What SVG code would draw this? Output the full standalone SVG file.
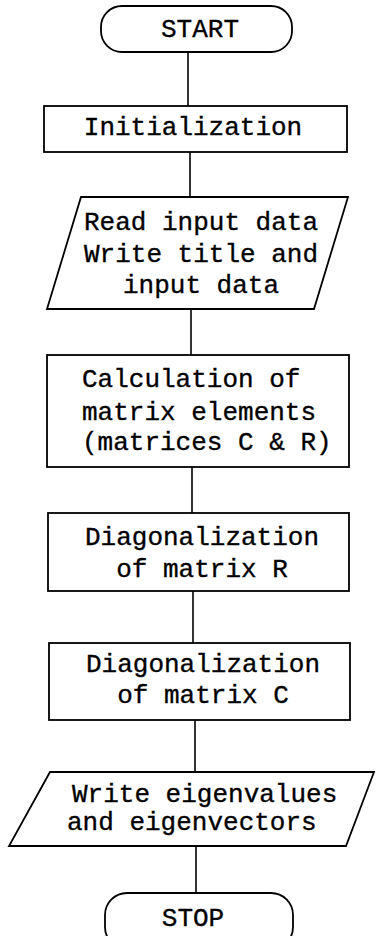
<svg xmlns="http://www.w3.org/2000/svg" width="376" height="936" viewBox="0 0 376 936">
<style>
.s{fill:#fff;stroke:#000;stroke-width:1.8}
.c{fill:none;stroke:#000;stroke-width:1.6}
.t{font-family:"Liberation Mono","Courier New",monospace;font-size:26px;fill:#000;stroke:#000;stroke-width:0.35}
.m{text-anchor:middle}
</style>
<rect width="376" height="936" fill="#fff"/>
<g id="connectors">
<line class="c" x1="188" y1="52" x2="188" y2="106"/>
<line class="c" x1="190" y1="152" x2="190" y2="197"/>
<line class="c" x1="191" y1="309" x2="191" y2="355"/>
<line class="c" x1="192" y1="467" x2="192" y2="513"/>
<line class="c" x1="193" y1="591" x2="193" y2="643"/>
<line class="c" x1="195" y1="720" x2="195" y2="772"/>
<line class="c" x1="196" y1="846" x2="196" y2="893"/>
</g>
<g id="start">
<rect class="s" x="101" y="6" width="191" height="46" rx="21" ry="21"/>
<text class="t m" x="200" y="37" font-size="24">START</text>
</g>
<g id="init">
<rect class="s" x="44" y="106" width="303" height="46"/>
<text class="t m" x="193" y="135">Initialization</text>
</g>
<g id="read">
<polygon class="s" points="81,197 348,197 314,309 47,309"/>
<text class="t m" x="201" y="230">Read input data</text>
<text class="t m" x="201" y="262">Write title and</text>
<text class="t m" x="201" y="293">input data</text>
</g>
<g id="calc">
<rect class="s" x="47" y="355" width="302" height="112"/>
<text class="t" x="82" y="387">Calculation of</text>
<text class="t" x="82" y="420">matrix elements</text>
<text class="t" x="82" y="450">(matrices C &amp; R)</text>
</g>
<g id="diagR">
<rect class="s" x="48" y="513" width="301" height="78"/>
<text class="t m" x="202" y="545">Diagonalization</text>
<text class="t m" x="202" y="577">of matrix R</text>
</g>
<g id="diagC">
<rect class="s" x="49" y="643" width="301" height="77"/>
<text class="t m" x="203" y="672">Diagonalization</text>
<text class="t m" x="203" y="703">of matrix C</text>
</g>
<g id="write">
<polygon class="s" points="50,772 374,772 346,846 9,846"/>
<text class="t" x="72" y="802">Write eigenvalues</text>
<text class="t" x="67" y="830">and eigenvectors</text>
</g>
<g id="stop">
<rect class="s" x="105" y="893" width="188" height="56" rx="22" ry="22"/>
<text class="t m" x="193" y="926" font-size="24">STOP</text>
</g>
</svg>
